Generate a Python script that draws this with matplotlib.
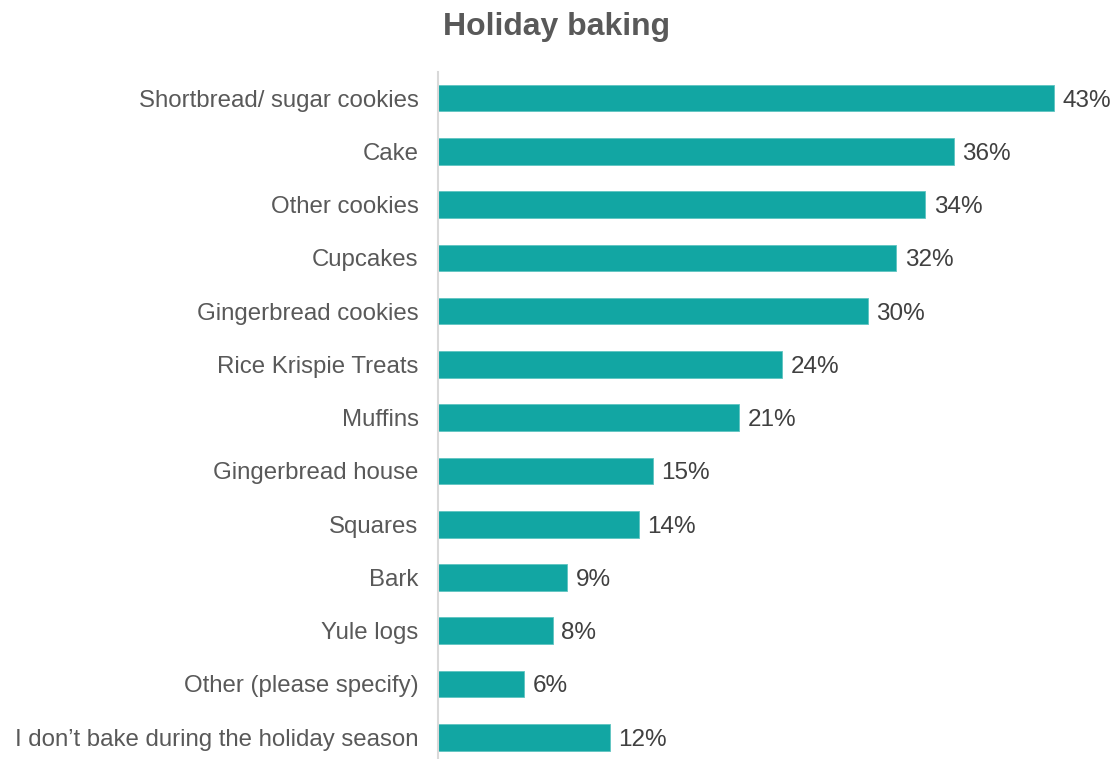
import matplotlib
matplotlib.use("Agg")
import matplotlib.pyplot as plt

categories = [
    "Shortbread/ sugar cookies",
    "Cake",
    "Other cookies",
    "Cupcakes",
    "Gingerbread cookies",
    "Rice Krispie Treats",
    "Muffins",
    "Gingerbread house",
    "Squares",
    "Bark",
    "Yule logs",
    "Other (please specify)",
    "I don\u2019t bake during the holiday season",
]
values = [43, 36, 34, 32, 30, 24, 21, 15, 14, 9, 8, 6, 12]

plt.rcParams["font.family"] = ["Liberation Sans", "DejaVu Sans"]

W, H = 1113, 759
fig = plt.figure(figsize=(W / 100, H / 100), dpi=100)
left_px, right_px, top_px, bot_px = 438, 1113, 72, 758
ax = fig.add_axes([left_px / W, 1 - bot_px / H, (right_px - left_px) / W, (bot_px - top_px) / H])

bar_color = "#12A6A3"
ypos = list(range(len(categories)))
ax.barh(ypos, values, height=0.5, color=bar_color, edgecolor="#5FC4C1", linewidth=0.6)

xmax = 43 * (right_px - left_px) / (1054 - left_px)
ax.set_xlim(0, xmax)
ax.set_ylim(12.39, -0.49)

for y, v in zip(ypos, values):
    ax.text(v + 0.6, y, f"{v}%", va="center_baseline", ha="left", fontsize=17.5, color="#404040")

ax.set_yticks(ypos)
ax.set_yticklabels(categories, fontsize=17.3, color="#595959", va="center_baseline")
ax.tick_params(axis="y", length=0, pad=14)
ax.set_xticks([])

for s in ["top", "right", "bottom"]:
    ax.spines[s].set_visible(False)
ax.spines["left"].set_color("#D9D9D9")
ax.spines["left"].set_linewidth(1.5)

fig.text(557 / W, 1 - 23 / H, "Holiday baking", ha="center", va="center_baseline",
         fontsize=23, fontweight="bold", color="#595959")

fig.savefig("out.png", dpi=100)
